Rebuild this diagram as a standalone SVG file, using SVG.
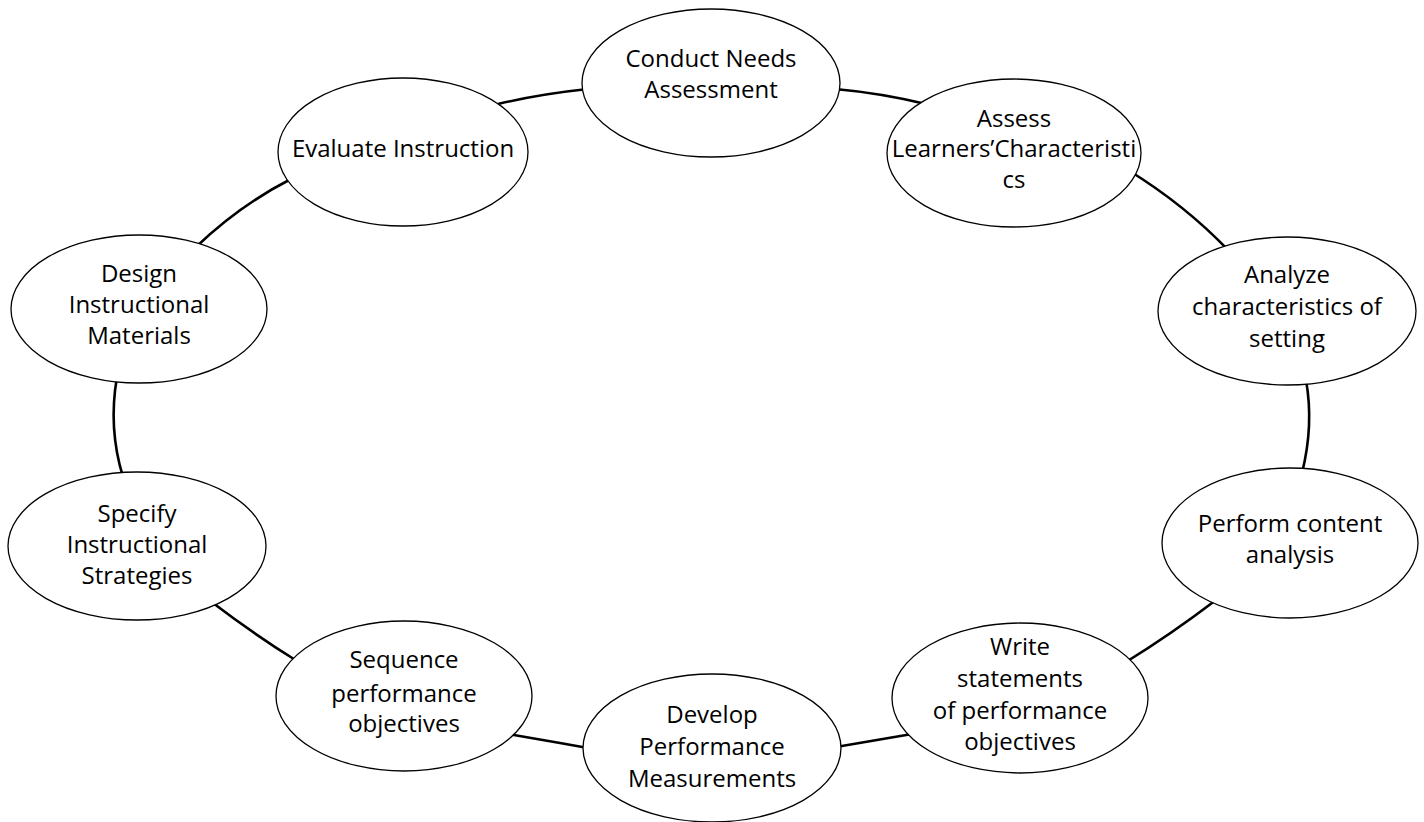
<svg xmlns="http://www.w3.org/2000/svg" width="1424" height="822" viewBox="0 0 1424 822">
<style>
.n ellipse{fill:#fff;stroke:#000;stroke-width:1.3}
.n text{font-family:"Open Sans","Noto Sans","Liberation Sans",sans-serif;font-size:24px;text-anchor:middle;fill:#000}
#connectors path{fill:none;stroke:#000;stroke-width:2.6}
</style>
<rect width="1424" height="822" fill="#fff"/>
<g id="connectors">
<path d="M498,104 Q540,94 588,89"/>
<path d="M835,89 Q880,93 926,104"/>
<path d="M1128,170 Q1185,205 1229,251"/>
<path d="M1306,380 Q1314,425 1302,473"/>
<path d="M1216,600 Q1170,635 1126,662"/>
<path d="M912,734 L836,747"/>
<path d="M508,734 L560,743 L588,748"/>
<path d="M213,603 Q255,635 297,661"/>
<path d="M117,377 Q108,428 123,477"/>
<path d="M196,247 Q240,205 291,179"/>
</g>
<g id="n1" class="n"><ellipse cx="711" cy="83" rx="129" ry="74"/><text x="711" y="67">Conduct Needs</text><text x="711" y="98">Assessment</text></g>
<g id="n2" class="n"><ellipse cx="1014" cy="153" rx="127" ry="74"/><text x="1014" y="127">Assess</text><text x="1014" y="157">Learners’Characteristi</text><text x="1014" y="188">cs</text></g>
<g id="n3" class="n"><ellipse cx="1287" cy="311" rx="129" ry="74"/><text x="1287" y="283">Analyze</text><text x="1287" y="315">characteristics of</text><text x="1287" y="347">setting</text></g>
<g id="n4" class="n"><ellipse cx="1290" cy="543" rx="128" ry="75"/><text x="1290" y="532">Perform content</text><text x="1290" y="563">analysis</text></g>
<g id="n5" class="n"><ellipse cx="1020" cy="698" rx="128" ry="75"/><text x="1020" y="655">Write</text><text x="1020" y="687">statements</text><text x="1020" y="719">of performance</text><text x="1020" y="750">objectives</text></g>
<g id="n6" class="n"><ellipse cx="712" cy="748" rx="129" ry="74"/><text x="712" y="723">Develop</text><text x="712" y="755">Performance</text><text x="712" y="787">Measurements</text></g>
<g id="n7" class="n"><ellipse cx="404" cy="696" rx="128" ry="75"/><text x="404" y="668">Sequence</text><text x="404" y="702">performance</text><text x="404" y="732">objectives</text></g>
<g id="n8" class="n"><ellipse cx="137" cy="546" rx="129" ry="74"/><text x="137" y="522">Specify</text><text x="137" y="553">Instructional</text><text x="137" y="584">Strategies</text></g>
<g id="n9" class="n"><ellipse cx="139" cy="309" rx="128" ry="74"/><text x="139" y="282">Design</text><text x="139" y="313">Instructional</text><text x="139" y="344">Materials</text></g>
<g id="n10" class="n"><ellipse cx="403" cy="152" rx="125" ry="74"/><text x="403" y="157">Evaluate Instruction</text></g>
</svg>
